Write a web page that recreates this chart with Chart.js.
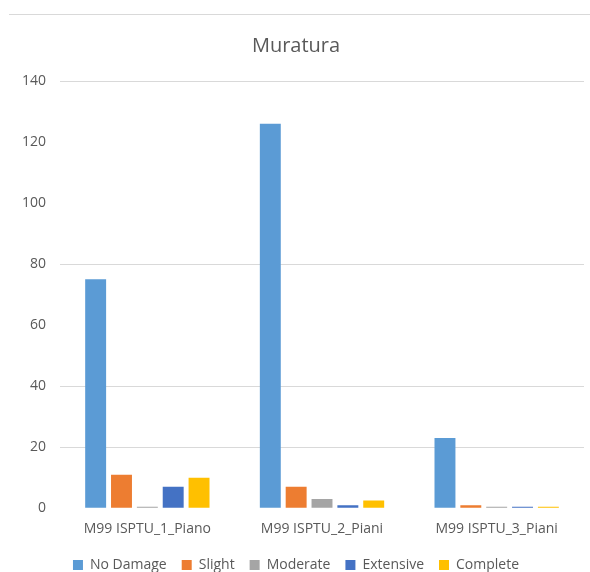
<!DOCTYPE html>
<html>
<head>
<meta charset="utf-8">
<script src="https://cdn.jsdelivr.net/npm/chart.js@4"></script>
<style>
    html, body { margin: 0; padding: 0; background: #fff; overflow: hidden; }
    #wrap { position: relative; width: 590px; height: 572px; }
    #frame { position: absolute; left: 9px; top: 14px; right: 0; border-top: 1px solid #d9d9d9; }
</style>
</head>
<body>
<div id="wrap">
    <div id="frame"></div>
    <canvas id="chart" width="590" height="572"></canvas>
</div>
<script>
    // values
    const categories = ["M99 ISPTU_1_Piano", "M99 ISPTU_2_Piani", "M99 ISPTU_3_Piani"];
    const seriesNames = ["No Damage", "Slight", "Moderate", "Extensive", "Complete"];
    const noDamage = [75, 126, 23];
    const slight = [11, 7, 1];
    const moderate = [0.5, 3, 0.5];
    const extensive = [7, 1, 0.5];
    const complete = [10, 2.5, 0.5];
    const colors = ["#5b9bd5", "#ed7d31", "#a5a5a5", "#4472c4", "#ffc000"];
    const yTicks = [0, 20, 40, 60, 80, 100, 120, 140];
    const shownGrid = [20, 40, 80, 140]; // only these lines are visible in the reference

    const seriesValues = [noDamage, slight, moderate, extensive, complete];
    const FONT = "'Open Sans', 'Liberation Sans', sans-serif";

    new Chart(document.getElementById("chart"), {
        type: "bar",
        data: {
            labels: categories,
            datasets: seriesNames.map((name, i) => ({
                label: name,
                data: seriesValues[i],
                backgroundColor: colors[i],
                borderWidth: 0,
                categoryPercentage: 0.74,
                barPercentage: 0.81
            }))
        },
        options: {
            responsive: false,
            animation: false,
            // negative bottom pushes the legend row down near the edge like the original
            layout: { padding: { top: 34, right: 6, left: 8, bottom: -10 } },
            plugins: {
                title: {
                    display: true,
                    text: "Muratura",
                    color: "#595959",
                    font: { family: FONT, size: 20, weight: "normal" },
                    padding: { top: 0, bottom: 23 }
                },
                legend: {
                    position: "bottom",
                    labels: {
                        color: "#595959",
                        font: { family: FONT, size: 14 },
                        boxWidth: 10,
                        boxHeight: 10,
                        padding: 15
                    }
                },
                tooltip: { enabled: false }
            },
            scales: {
                x: {
                    afterFit: (scale) => { scale.height += 2; },
                    ticks: {
                        color: "#595959",
                        font: { family: FONT, size: 14 },
                        padding: 4,
                        maxRotation: 0
                    },
                    grid: { display: false },
                    border: { display: false }
                },
                y: {
                    min: 0,
                    max: 140,
                    afterBuildTicks: (axis) => {
                        axis.ticks = yTicks.map(v => ({ value: v }));
                    },
                    ticks: {
                        color: "#595959",
                        font: { family: FONT, size: 14 },
                        padding: 14
                    },
                    grid: {
                        color: (ctx) => shownGrid.includes(ctx.tick && ctx.tick.value) ? "#d9d9d9" : "rgba(0,0,0,0)",
                        drawTicks: false,
                        lineWidth: 1
                    },
                    border: { display: false }
                }
            }
        }
    });
</script>
</body>
</html>
